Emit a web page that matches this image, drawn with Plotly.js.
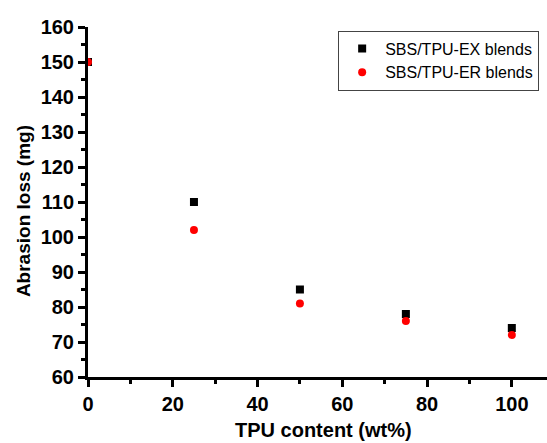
<!DOCTYPE html>
<html><head><script src="https://cdn.plot.ly/plotly-3.0.1.min.js"></script>
<style>html,body{margin:0;padding:0;background:#fff}</style></head>
<body><div id="chart" style="width:547px;height:443px"></div>
<script>
const tpuContent = [0, 25, 50, 75, 100];
const exLoss = [150, 110, 85, 78, 74];
const erLoss = [150, 102, 81, 76, 72];
const exName = 'SBS/TPU-EX blends';
const erName = 'SBS/TPU-ER blends';
const xTitle = 'TPU content (wt%)';
const yTitle = 'Abrasion loss (mg)';

const fam = 'Arial, Liberation Sans, sans-serif';
const tickFont = {family: fam, size: 20, color: '#000', weight: 'bold'};
const data = [
  {x: tpuContent, y: exLoss, name: exName, type: 'scatter', mode: 'markers',
   marker: {symbol: 'square', size: 8, color: '#000'}},
  {x: tpuContent, y: erLoss, name: erName, type: 'scatter', mode: 'markers',
   marker: {symbol: 'circle', size: 8, color: '#ff0000'}}
];
const layout = {
  width: 547, height: 443,
  margin: {l: 88, r: 0, t: 27, b: 66},
  paper_bgcolor: '#fff', plot_bgcolor: '#fff',
  showlegend: true,
  legend: {x: 0.545, y: 0.99, xanchor: 'left', yanchor: 'top', bordercolor: '#444', borderwidth: 1,
    font: {family: fam, size: 16, color: '#000'}, bgcolor: '#fff', itemwidth: 36, tracegroupgap: 0},
  xaxis: {range: [0, 108.3], dtick: 20, tick0: 0, showgrid: false, zeroline: false,
    showline: true, linewidth: 3, linecolor: '#000', ticks: 'outside', ticklen: 7, tickwidth: 3, tickcolor: '#000',
    minor: {dtick: 10, ticks: 'outside', ticklen: 4, tickwidth: 3, tickcolor: '#000', showgrid: false},
    tickfont: tickFont},
  yaxis: {range: [60, 160], dtick: 10, tick0: 60, showgrid: false, zeroline: false,
    showline: true, linewidth: 3, linecolor: '#000', ticks: 'outside', ticklen: 7, tickwidth: 3, tickcolor: '#000',
    minor: {dtick: 5, ticks: 'outside', ticklen: 4, tickwidth: 3, tickcolor: '#000', showgrid: false},
    tickfont: tickFont},
  annotations: [
    {text: xTitle, xref: 'paper', yref: 'paper', x: 0.514, y: -0.151, xanchor: 'center', yanchor: 'middle',
     showarrow: false, font: {family: fam, size: 20, color: '#000', weight: 'bold'}},
    {text: yTitle, xref: 'paper', yref: 'paper', x: -0.1416, y: 0.474, xanchor: 'center', yanchor: 'middle',
     textangle: -90, showarrow: false, font: {family: fam, size: 19, color: '#000', weight: 'bold'}}
  ]
};
Plotly.newPlot('chart', data, layout, {displayModeBar: false});
</script></body></html>
